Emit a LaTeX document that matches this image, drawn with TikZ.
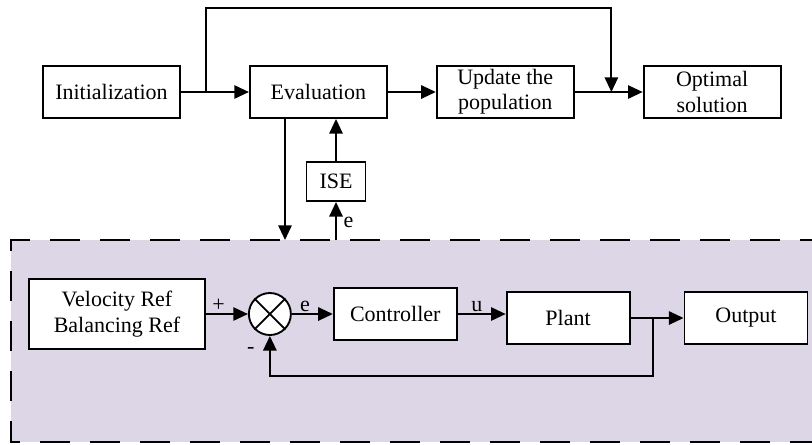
\documentclass[tikz,border=0pt]{standalone}
\usepackage{fontspec}
\setmainfont{Liberation Serif}
\usepackage{tikz}
\usetikzlibrary{arrows.meta, positioning, calc}
\definecolor{loopbg}{RGB}{220,214,230}

\begin{document}
\begin{tikzpicture}[
    x=0.75pt, y=-0.75pt,
    every node/.style={font=\fontsize{16.5}{19}\selectfont},
    block/.style={draw, line width=1.4pt, fill=white, minimum width=102.75pt,
                  minimum height=39pt, align=center, inner sep=2pt},
    ctrlbox/.style={block, minimum width=92.25pt},
    sumnode/.style={draw, line width=1.4pt, circle, fill=white, minimum size=31.5pt,
                    inner sep=0pt},
    arrow/.style={-{Triangle[length=11pt,width=10pt]}, line width=1.4pt},
    lbl/.style={inner sep=1pt}
]
\useasboundingbox (0,0) rectangle (812,444);
% shaded loop region
\fill[loopbg] (11,240) rectangle (830,442);
\draw[line width=1.4pt, dash pattern=on 22.5pt off 15pt] (830,240) -- (11,240) -- (11,442) -- (830,442);

% optimisation row
\node[block] (init) at (111.5,92) {Initialization};
\node[block, right=51pt of init] (eval) {Evaluation};
\node[block, right=36pt of eval]  (upd)  {Update the\\population};
\node[block, right=51pt of upd]   (opt)  {Optimal\\solution};
\node[block, minimum width=44.25pt, minimum height=29.25pt] (ise) at (336,181.5) {ISE};

% control loop
\node[block, minimum width=132pt, minimum height=52.5pt] (ref) at (117,314) {Velocity Ref\\Balancing Ref};
\node[sumnode, right=31.5pt of ref]  (sum)   {};
\node[ctrlbox, right=30.75pt of sum] (ctrl)  {Controller};
\node[ctrlbox, right=36pt of ctrl, yshift=-3pt]   (plant) {Plant};
\node[ctrlbox, right=39.75pt of plant] (out) {Output};
\draw[line width=1.4pt] (sum.north west) -- (sum.south east) (sum.north east) -- (sum.south west);

\coordinate (b1) at ($(init.east)!0.37!(eval.west)$);
\coordinate (b2) at ($(upd.east)!0.54!(opt.west)$);
\coordinate (b3) at ($(plant.east)!0.43!(out.west)$);
\coordinate (gin)  at (285,240);
\coordinate (gout) at (336,240);

\draw[arrow] (init) -- (eval); \draw[arrow] (eval) -- (upd);
\draw[arrow] (upd) -- (opt);
\draw[arrow] (b1) -- ++(0,-84) -| (b2);
\draw[arrow] (eval.south -| gin) -- (gin);
\draw[arrow] (gout) -- node[lbl, right, pos=0.45, xshift=4pt] {e} (ise);
\draw[arrow] (ise) -- (ise |- eval.south);

\draw[arrow] (ref)  -- node[lbl, above, pos=0.3]  {+} (sum);
\draw[arrow] (sum)  -- node[lbl, above, pos=0.32] {e} (ctrl);
\draw[arrow] (ctrl) -- node[lbl, above, pos=0.4] {u} (ctrl -| plant.west);
\draw[arrow] (plant) -- (out);
\draw[arrow] (b3) -- ++(0,58) -| (sum);
\node[lbl] (minus) at ($(sum.south)+(-19,15)$) {-};
\end{tikzpicture}
\end{document}
